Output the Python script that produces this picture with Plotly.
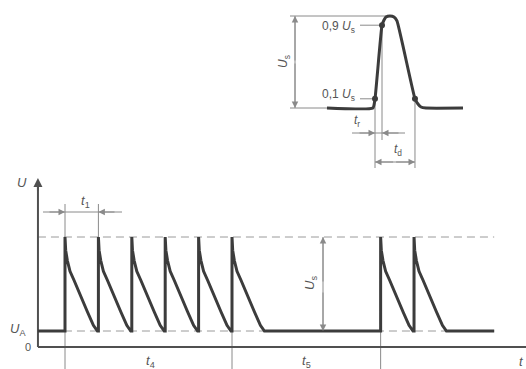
import plotly.graph_objects as go

# ---------------- data (main pulse train) ----------------
PULSE_STARTS = [0, 1, 2, 3, 4, 5, 9.45, 10.45]          # in units of t1
DECAY_T = [0, 0.02, 0.07, 0.15, 0.27, 0.47, 0.67, 0.85, 0.92, 0.97]   # fraction of t1
DECAY_V = [1.0, 0.86, 0.75, 0.635, 0.54, 0.365, 0.205, 0.06, 0.02, 0.0]  # fraction of Us
U_A = 1.0
U_S = 5.875
T_AXIS = -0.81
T_END = 12.85

# ---------------- data (inset single pulse) ----------------
INSET_T = [-6.86, -0.3, 0, 1, 1.29, 1.57, 2.14, 2.71, 3.14, 5.71, 6.14, 6.57, 7.29, 12.57]
INSET_V = [0, 0, 0.1, 0.9, 0.957, 0.99, 1.0, 0.99, 0.946, 0.1, 0.043, 0.011, 0, 0]
MARK_T = [0, 1, 5.71]
MARK_V = [0.1, 0.9, 0.1]

W, H = 526, 369
# pixel <-> data helpers (main: t0 at px 65, 33.4 px per t1; U=0 at py 347, 16 px per U_A)
def mx(p): return (p - 65) / 33.4
def my(p): return (347 - p) / 16
# inset: t=0 at px 375, 7 px per unit; V=0 at py 108, 92 px per Us
def ix(p): return (p - 375) / 7
def iy(p): return (108 - p) / 92

WAVE = "#3c3c3c"
THIN = "#8a8a8a"
DASH = "#9a9a9a"
AXC = "#505050"
TXT = "#555555"
FONT = "Liberation Sans"

fig = go.Figure()

def seg_trace(segs, color, width, dash=None, axes=("x", "y")):
    xs, ys = [], []
    for (x0, y0, x1, y1) in segs:
        xs += [x0, x1, None]
        ys += [y0, y1, None]
    fig.add_trace(go.Scatter(x=xs, y=ys, mode="lines", xaxis=axes[0], yaxis=axes[1],
                             line=dict(color=color, width=width, dash=dash),
                             hoverinfo="skip", showlegend=False))

# --- main waveform
wx, wy = [T_AXIS], [U_A]
for s in PULSE_STARTS:
    wx.append(s); wy.append(U_A)
    for dt, dv in zip(DECAY_T, DECAY_V):
        wx.append(s + dt); wy.append(U_A + U_S * dv)
wx.append(T_END); wy.append(U_A)

top = U_A + U_S
# dashed reference lines
seg_trace([(T_AXIS, U_A, T_END, U_A), (T_AXIS, top, T_END, top)], DASH, 1, dash="8px,5px")
# thin dimension / extension lines
t1y = my(212)
usx = mx(323)
seg_trace([
    (PULSE_STARTS[0], my(204), PULSE_STARTS[0], -3),
    (PULSE_STARTS[1], my(204), PULSE_STARTS[1], top),
    (PULSE_STARTS[5], U_A, PULSE_STARTS[5], -3),
    (PULSE_STARTS[6], U_A, PULSE_STARTS[6], -3),
    (mx(43), t1y, mx(122), t1y),
    (usx, U_A, usx, top),
], THIN, 1)
# axes
seg_trace([(T_AXIS, 0, T_AXIS, my(182)), (T_AXIS, 0, 20, 0)], AXC, 2)

fig.add_trace(go.Scatter(x=wx, y=wy, mode="lines", line=dict(color=WAVE, width=3),
                         hoverinfo="skip", showlegend=False))

# --- inset
ax2 = ("x2", "y2")
trY = iy(133)
tdY = iy(162)
dimX = ix(295)
seg_trace([
    (ix(290), 1.0, INSET_T[5], 1.0),
    (ix(290), 0.0, INSET_T[0], 0.0),
    (dimX, 0, dimX, 1),
    (MARK_T[0], MARK_V[0], MARK_T[0], iy(168)),
    (MARK_T[1], MARK_V[1], MARK_T[1], iy(140)),
    (MARK_T[2], MARK_V[2], MARK_T[2], iy(168)),
    (ix(352), trY, ix(405), trY),
    (MARK_T[0], tdY, MARK_T[2], tdY),
    (ix(360), MARK_V[1], MARK_T[1], MARK_V[1]),
    (ix(360), MARK_V[0], MARK_T[0], MARK_V[0]),
], THIN, 1, axes=ax2)
fig.add_trace(go.Scatter(x=INSET_T, y=INSET_V, mode="lines", xaxis="x2", yaxis="y2",
                         line=dict(color=WAVE, width=3, shape="spline", smoothing=0.4),
                         hoverinfo="skip", showlegend=False))
fig.add_trace(go.Scatter(x=MARK_T, y=MARK_V, mode="markers", xaxis="x2", yaxis="y2",
                         marker=dict(color=WAVE, size=6),
                         hoverinfo="skip", showlegend=False))

# --- arrowheads
def arrow(x, y, ax, ay, xr="x", yr="y", width=1, color=THIN, size=1.3):
    fig.add_annotation(x=x, y=y, ax=ax, ay=ay, xref=xr, yref=yr, axref=xr, ayref=yr,
                       text="", showarrow=True, arrowhead=2, arrowsize=size,
                       arrowwidth=width, arrowcolor=color, standoff=0, startstandoff=0)

arrow(T_AXIS, my(178), T_AXIS, my(192), width=2, color=AXC, size=0.9)
arrow(PULSE_STARTS[0], t1y, mx(48), t1y)
arrow(PULSE_STARTS[1], t1y, mx(116), t1y)
arrow(usx, top, usx, 4.0)
arrow(usx, U_A, usx, 3.5)
arrow(dimX, 1.0, dimX, 0.5, "x2", "y2")
arrow(dimX, 0.0, dimX, 0.5, "x2", "y2")
arrow(MARK_T[0], trY, ix(358), trY, "x2", "y2")
arrow(MARK_T[1], trY, ix(400), trY, "x2", "y2")
arrow(MARK_T[0], tdY, 2.8, tdY, "x2", "y2")
arrow(MARK_T[2], tdY, 2.8, tdY, "x2", "y2")

# --- labels
def label(text, x, y, xr="x", yr="y", size=13, angle=0, xanchor="center"):
    fig.add_annotation(x=x, y=y, xref=xr, yref=yr, text=text, showarrow=False,
                       font=dict(family=FONT, size=size, color=TXT), textangle=angle,
                       xanchor=xanchor, yanchor="middle")

label("<i>U</i>", mx(22), my(182))
label("<i>U</i><sub>A</sub>", mx(18), my(329))
label("0", mx(28), my(347), size=11)
label("<i>t</i><sub>1</sub>", mx(85), my(201))
label("<i>U</i><sub>s</sub>", mx(310), my(283), angle=-90)
label("<i>t</i><sub>4</sub>", mx(150), my(361))
label("<i>t</i><sub>5</sub>", mx(306), my(361))
label("<i>t</i>", mx(521), my(361))

label("0,9 <i>U</i><sub>s</sub>", ix(357), iy(27), "x2", "y2", size=12, xanchor="right")
label("0,1 <i>U</i><sub>s</sub>", ix(357), iy(95), "x2", "y2", size=12, xanchor="right")
label("<i>U</i><sub>s</sub>", ix(284), iy(62), "x2", "y2", size=12, angle=-90)
label("<i>t</i><sub>r</sub>", ix(357), iy(121), "x2", "y2", size=12)
label("<i>t</i><sub>d</sub>", ix(398), iy(150), "x2", "y2", size=12)

fig.update_layout(
    width=W, height=H, autosize=False,
    margin=dict(l=0, r=0, t=0, b=0),
    paper_bgcolor="white", plot_bgcolor="white",
    xaxis=dict(range=[mx(0), mx(W)], visible=False, domain=[0, 1]),
    yaxis=dict(range=[my(H), my(0)], visible=False, domain=[0, 1]),
    xaxis2=dict(range=[ix(0), ix(W)], visible=False, domain=[0, 1],
                anchor="y2", overlaying="x"),
    yaxis2=dict(range=[iy(H), iy(0)], visible=False, domain=[0, 1],
                anchor="x2", overlaying="y"),
)

fig.write_html("out.html", config={"displayModeBar": False},
               post_script="document.body.style.margin='0';document.body.style.overflow='hidden';")
